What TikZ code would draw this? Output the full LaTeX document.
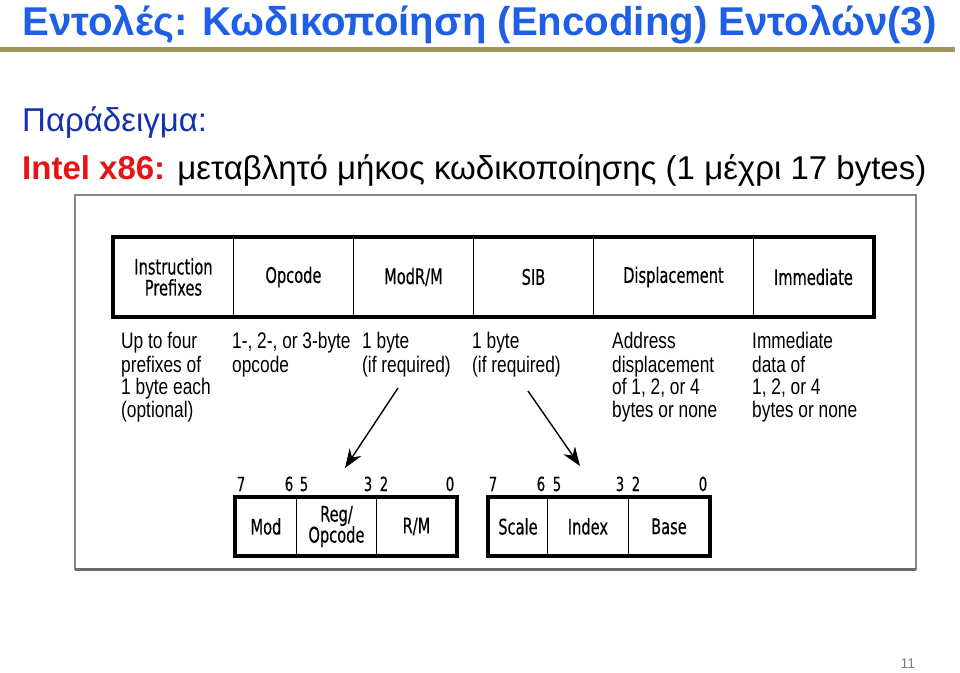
\documentclass[tikz,border=0pt]{standalone}
\usepackage{fontspec}
\setmainfont{Liberation Sans}
\newfontfamily\descfont[FakeStretch=0.77]{Liberation Sans}
\newfontfamily\labfont[FakeStretch=0.68,FakeBold=0.35]{DejaVu Sans}
\usetikzlibrary{arrows.meta}
\definecolor{titleblue}{RGB}{31,95,230}
\definecolor{subblue}{RGB}{20,50,175}
\definecolor{introred}{RGB}{230,20,20}
\definecolor{rulegold}{RGB}{160,150,92}
\definecolor{framegray}{RGB}{135,135,135}
\begin{document}
\begin{tikzpicture}[x=1pt,y=-1pt,
  cell/.style={draw, line width=0.9pt, minimum height=79pt, inner sep=0pt, anchor=north west,
    align=center, font=\labfont\fontsize{21.5}{21}\selectfont},
  bcell/.style={draw, line width=0.9pt, minimum height=58pt, inner sep=0pt, anchor=north west,
    align=center, font=\labfont\fontsize{21.5}{21}\selectfont},
  desc/.style={anchor=north west, inner sep=0pt, align=left,
    font=\descfont\fontsize{22.5}{22.3}\selectfont},
  bitnum/.style={anchor=base, inner sep=0pt, font=\labfont\fontsize{19.5}{19.5}\selectfont},
  ptr/.style={line width=1.4pt, -{Stealth[length=19pt,width=14pt]}},
  thickbox/.style={line width=3.2pt}
]
\useasboundingbox (0,0) rectangle (960,672);

% title
\node[anchor=base west, inner sep=0pt, text=titleblue, font=\bfseries\fontsize{40.2}{42}\selectfont]
  (title) at (22,35) {Εντολές: Κωδικοποίηση (Encoding) Εντολών(3)};
\draw[rulegold, line width=5pt] (0,49.5) -- (955,49.5);

\node[anchor=base west, inner sep=0pt, text=subblue, font=\fontsize{33}{35}\selectfont]
  (ex) at (22,131) {Παράδειγμα:};
\node[anchor=base west, inner sep=0pt, font=\fontsize{33}{35}\selectfont]
  (intel) at (22,179) {\textcolor{introred}{\bfseries Intel x86:} μεταβλητό μήκος κωδικοποίησης (1 μέχρι 17 bytes)};

% frame
\draw[framegray, line width=1.3pt] (75,570) -- (75,195) -- (916,195) -- (916,570);
\draw[framegray!80!black, line width=3pt] (75,569) -- (916,569);

% top row
\node[cell, minimum width=120pt] (c1) at (113,237) {Instruction\\Prefixes};
\node[cell, minimum width=120pt] (c2) at (233,237) {Opcode};
\node[cell, minimum width=120pt] (c3) at (353,237) {ModR/M};
\node[cell, minimum width=120pt] (c4) at (473,237) {SIB};
\node[cell, minimum width=160pt] (c5) at (593,237) {Displacement};
\node[cell, minimum width=120pt] (c6) at (753,237) {Immediate};
\draw[thickbox] (c1.north west) rectangle (c6.south east);

% descriptions
\node[desc] (d1) at (121,332) {\strut Up to four\\prefixes of\\1 byte each\\(optional)};
\node[desc] (d2) at (232,332) {\strut 1-, 2-, or 3-byte\\opcode};
\node[desc] (d3) at (362,332) {\strut 1 byte\\(if required)};
\node[desc] (d4) at (472,332) {\strut 1 byte\\(if required)};
\node[desc] (d5) at (612,332) {\strut Address\\displacement\\of 1, 2, or 4\\bytes or none};
\node[desc] (d6) at (752,332) {\strut Immediate\\data of\\1, 2, or 4\\bytes or none};

% ModR/M byte
\node[bcell, minimum width=61pt] (m1) at (235,497) {Mod};
\node[bcell, minimum width=80pt] (m2) at (296,497) {Reg/\\Opcode};
\node[bcell, minimum width=80pt] (m3) at (376,497) {R/M};
\draw[thickbox] (m1.north west) rectangle (m3.south east);

% SIB byte
\node[bcell, minimum width=59pt] (s1) at (488,497) {Scale};
\node[bcell, minimum width=81pt] (s2) at (547,497) {Index};
\node[bcell, minimum width=81pt] (s3) at (628,497) {Base};
\draw[thickbox] (s1.north west) rectangle (s3.south east);

% bit numbers
\node[bitnum] (mb7) at (241,491) {7};
\node[bitnum] (mb6) at (289,491) {6};
\node[bitnum] (mb5) at (304,491) {5};
\node[bitnum] (mb3) at (368,491) {3};
\node[bitnum] (mb2) at (384,491) {2};
\node[bitnum] (mb0) at (450,491) {0};
\node[bitnum] (sb7) at (493,491) {7};
\node[bitnum] (sb6) at (541,491) {6};
\node[bitnum] (sb5) at (557,491) {5};
\node[bitnum] (sb3) at (620,491) {3};
\node[bitnum] (sb2) at (636,491) {2};
\node[bitnum] (sb0) at (703,491) {0};

% arrows
\coordinate (a1s) at (398,388);
\coordinate (a1e) at (345,468);
\coordinate (a2s) at (528,391);
\coordinate (a2e) at (580,466);
\draw[ptr] (a1s) -- (a1e);
\draw[ptr] (a2s) -- (a2e);

% page number
\node[anchor=base, inner sep=0pt, text=gray, font=\fontsize{14}{14}\selectfont] (pg) at (908,668) {11};
\end{tikzpicture}
\end{document}
